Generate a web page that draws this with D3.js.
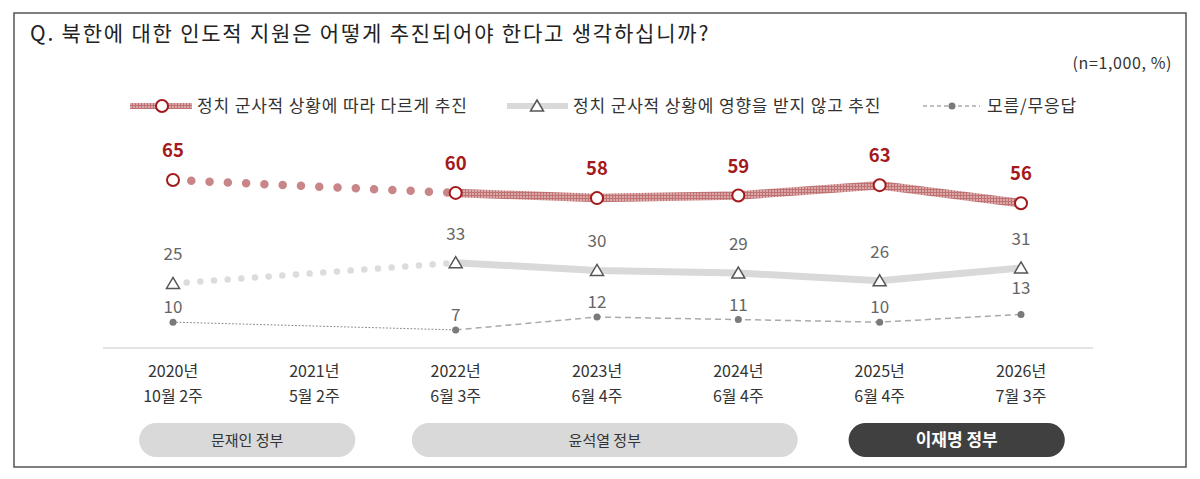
<!DOCTYPE html>
<html>
<head>
<meta charset="utf-8">
<script src="https://cdn.jsdelivr.net/npm/d3@7"></script>
<style>
  html, body { margin: 0; padding: 0; background: #fff; }
  svg { display: block; font-family: "Noto Sans CJK KR", "Noto Sans", sans-serif; }
</style>
</head>
<body>
<svg id="chart" width="1200" height="479"></svg>
<script>
// survey waves
const years = ["2020년", "2021년", "2022년", "2023년", "2024년", "2025년", "2026년"];
const weeks = ["10월 2주", "5월 2주", "6월 3주", "6월 4주", "6월 4주", "6월 4주", "7월 3주"];

// series (%), 2021 has no reading
const differ = [65, null, 60, 58, 59, 63, 56];
const regardless = [25, null, 33, 30, 29, 26, 31];
const unknown = [10, null, 7, 12, 11, 10, 13];

const seriesNames = ["정치 군사적 상황에 따라 다르게 추진", "정치 군사적 상황에 영향을 받지 않고 추진", "모름/무응답"];

// governments, span given as first/last wave index (fractional)
const eraNames = ["문재인 정부", "윤석열 정부", "이재명 정부"];
const eraSpan = [[-0.24, 1.29], [-0.31, 2.42], [-0.22, 1.31]];
const eraStart = [0, 2, 5];

const svg = d3.select("#chart");
const RED = "#a31a1c";

// hatched texture for the red line
const defs = svg.append("defs");
const pat = defs.append("pattern").attr("id", "hatch")
  .attr("width", 3).attr("height", 3).attr("patternUnits", "userSpaceOnUse");
pat.append("rect").attr("width", 3).attr("height", 3).attr("fill", "#daa8a8");
pat.append("path").attr("d", "M0,0.5 H3 M0.5,0 V3").attr("stroke", "#c07273").attr("stroke-width", 1);

// frame
svg.append("rect").attr("x", 14).attr("y", 13).attr("width", 1172).attr("height", 454)
  .attr("fill", "none").attr("stroke", "#555").attr("stroke-width", 1.5);

svg.append("text").attr("x", 30).attr("y", 41)
  .attr("font-size", 21).attr("fill", "#222").attr("letter-spacing", 1.8)
  .text("Q. 북한에 대한  인도적  지원은  어떻게  추진되어야  한다고  생각하십니까?");

svg.append("text").attr("x", 1172).attr("y", 69).attr("text-anchor", "end")
  .attr("font-size", 16).attr("fill", "#333").attr("letter-spacing", 0.6)
  .text("(n=1,000,  %)");

const x = d3.scalePoint().domain(d3.range(years.length)).range([173, 1021]);
const y = d3.scaleLinear().domain([0, 65]).range([348, 180]);

// baseline
svg.append("line").attr("x1", 103).attr("x2", 1093).attr("y1", 348).attr("y2", 348)
  .attr("stroke", "#e3e3e3").attr("stroke-width", 2);

// axis labels
const xAxis = svg.append("g");
years.forEach((yr, i) => {
  xAxis.append("text").attr("x", x(i)).attr("y", 377).attr("text-anchor", "middle")
    .attr("font-size", 16).attr("fill", "#333").text(yr);
  xAxis.append("text").attr("x", x(i)).attr("y", 402).attr("text-anchor", "middle")
    .attr("font-size", 16).attr("fill", "#333").text(weeks[i]);
});

// government pills
eraNames.forEach((name, i) => {
  const x0 = x(eraStart[i]) + eraSpan[i][0] * x.step();
  const x1 = x(eraStart[i]) + eraSpan[i][1] * x.step();
  const dark = i === eraNames.length - 1;
  svg.append("rect").attr("x", x0).attr("y", 423).attr("width", x1 - x0).attr("height", 34)
    .attr("rx", 17).attr("fill", dark ? "#404040" : "#d9d9d9");
  svg.append("text").attr("x", (x0 + x1) / 2).attr("y", 446).attr("text-anchor", "middle")
    .attr("font-size", dark ? 17 : 15).attr("font-weight", dark ? "bold" : "normal")
    .attr("fill", dark ? "#fff" : "#333").text(name);
});

const pts = vals => vals.map((v, i) => ({ i, v })).filter(d => d.v != null);
const line = d3.line().x(d => x(d.i)).y(d => y(d.v));

function drawSeries(vals, o) {
  const p = pts(vals);
  const g = svg.append("g");
  // 2020 -> 2022 gap segment
  g.append("path").attr("d", line(p.slice(0, 2))).attr("fill", "none")
    .attr("stroke", o.gapStroke).attr("stroke-width", o.gapWidth)
    .attr("stroke-linecap", "round").attr("stroke-dasharray", o.gapDash);
  g.append("path").attr("d", line(p.slice(1))).attr("fill", "none")
    .attr("stroke", o.stroke).attr("stroke-width", o.width)
    .attr("stroke-dasharray", o.dash || null).attr("stroke-linejoin", "round");
  p.forEach(d => o.marker(g, x(d.i), y(d.v)));
  p.forEach((d, k) => {
    g.append("text").attr("x", x(d.i)).attr("y", y(d.v) + (o.dyFn ? o.dyFn(k, p.length) : o.dy))
      .attr("text-anchor", "middle").attr("font-size", o.fs).attr("font-weight", o.fw)
      .attr("fill", o.labelColor).text(d.v);
  });
}

const circleMarker = (g, cx, cy) => g.append("circle").attr("cx", cx).attr("cy", cy).attr("r", 6)
  .attr("fill", "#fff").attr("stroke", RED).attr("stroke-width", 2);
const triMarker = (g, cx, cy) => g.append("path")
  .attr("d", `M${cx},${cy - 6} L${cx + 6.5},${cy + 5} L${cx - 6.5},${cy + 5} Z`)
  .attr("fill", "#fff").attr("stroke", "#555").attr("stroke-width", 1.5);
const dotMarker = (g, cx, cy) => g.append("circle").attr("cx", cx).attr("cy", cy).attr("r", 3.5)
  .attr("fill", "#7a7a7a");

drawSeries(unknown, {
  gapStroke: "#888", gapWidth: 1, gapDash: "1 2.5",
  stroke: "#aaa", width: 1.5, dash: "6 4",
  marker: dotMarker, fs: 17, fw: "normal", labelColor: "#666",
  dyFn: (k, n) => k === n - 1 ? -20 : -9
});
drawSeries(regardless, {
  gapStroke: "#dcdcdc", gapWidth: 6.5, gapDash: "0 13.7",
  stroke: "#d9d9d9", width: 7,
  marker: triMarker, fs: 17, fw: "normal", labelColor: "#666", dy: -23
});
drawSeries(differ, {
  gapStroke: "#c98688", gapWidth: 8.5, gapDash: "0 18.3",
  stroke: "url(#hatch)", width: 8.5,
  marker: circleMarker, fs: 18.5, fw: "bold", labelColor: RED, dy: -23
});

// legend
const lg = svg.append("g");
const ly = 106;
lg.append("line").attr("x1", 130).attr("x2", 192).attr("y1", ly).attr("y2", ly)
  .attr("stroke", "url(#hatch)").attr("stroke-width", 6);
circleMarker(lg, 162, ly);
lg.append("text").attr("x", 197).attr("y", ly + 6).attr("font-size", 17).attr("letter-spacing", 0.85)
  .attr("fill", "#333").text(seriesNames[0]);

lg.append("line").attr("x1", 507).attr("x2", 568).attr("y1", ly).attr("y2", ly)
  .attr("stroke", "#d9d9d9").attr("stroke-width", 6);
triMarker(lg, 537, ly);
lg.append("text").attr("x", 573).attr("y", ly + 6).attr("font-size", 17).attr("letter-spacing", 0.85)
  .attr("fill", "#333").text(seriesNames[1]);

lg.append("line").attr("x1", 923).attr("x2", 980).attr("y1", ly).attr("y2", ly)
  .attr("stroke", "#aaa").attr("stroke-width", 1.5).attr("stroke-dasharray", "4 3");
dotMarker(lg, 952, ly);
lg.append("text").attr("x", 987).attr("y", ly + 6).attr("font-size", 17).attr("letter-spacing", 0.85)
  .attr("fill", "#333").text(seriesNames[2]);
</script>
</body>
</html>
